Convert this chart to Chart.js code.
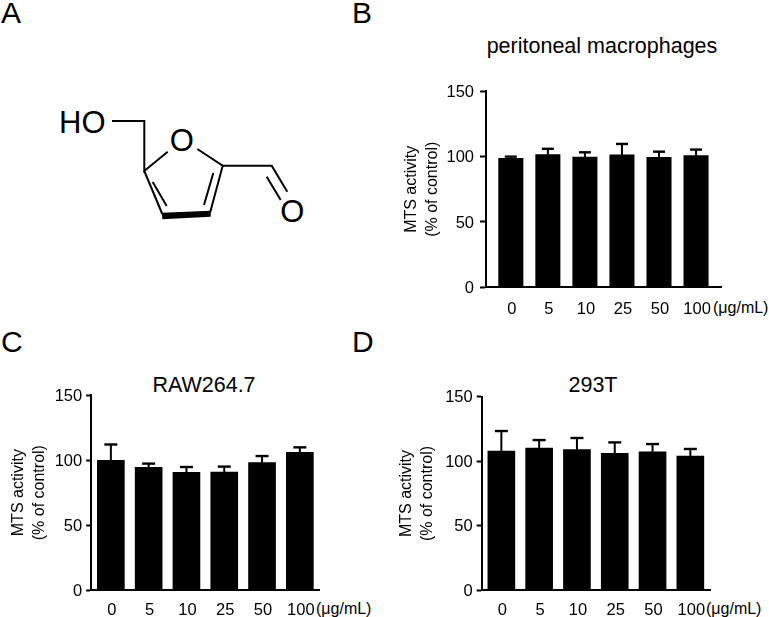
<!DOCTYPE html>
<html>
<head>
<meta charset="utf-8">
<title>MTS activity</title>
<script src="https://cdn.jsdelivr.net/npm/chart.js@4"></script>
<style>
    html, body { margin: 0; padding: 0; background: #fff; }
    body { position: relative; width: 769px; height: 617px; overflow: hidden; font-family: "Liberation Sans", Arial, sans-serif; color: #000; }
    canvas { position: absolute; display: block; }
    .label { position: absolute; white-space: nowrap; line-height: 1; }
    .letter { font-size: 30px; }
    .title { font-size: 21.5px; transform: translateX(-50%); }
    .unit { font-size: 16px; }
    svg { position: absolute; left: 0; top: 0; }
</style>
</head>
<body>

<svg width="340" height="250" viewBox="0 0 340 250">
    <g fill="none" stroke="#000" stroke-width="2">
        <polyline points="112,121 144.3,121 144.3,171 167.7,151.7"></polyline>
        <polyline points="197.3,149 222.7,165.7 210,213"></polyline>
        <line x1="144.3" y1="171" x2="162.3" y2="214"></line>
        <line x1="152.7" y1="182" x2="166.7" y2="206"></line>
        <line x1="213.3" y1="173" x2="204" y2="205"></line>
        <polyline points="222.7,165.7 271.7,165.7 287.3,191.7"></polyline>
        <line x1="266.7" y1="176.7" x2="280.7" y2="200"></line>
    </g>
    <polygon points="162,212.7 210.7,210.7 210.7,216.7 162.3,219.3" fill="#000"></polygon>
    <g font-family="Liberation Sans, Arial, sans-serif" font-size="31" fill="#000">
        <text x="59" y="133">HO</text>
        <text x="181.7" y="151" text-anchor="middle">O</text>
        <text x="292.3" y="222" text-anchor="middle">O</text>
    </g>
</svg>

<span class="label letter" style="left:1px;top:-2px">A</span>
<span class="label letter" style="left:352px;top:-2px">B</span>
<span class="label letter" style="left:1px;top:327px">C</span>
<span class="label letter" style="left:352px;top:327px">D</span>

<span class="label title" style="left:602px;top:36px">peritoneal macrophages</span>
<span class="label title" style="left:204px;top:375px">RAW264.7</span>
<span class="label title" style="left:593px;top:375px">293T</span>

<span class="label unit" style="left:713px;top:300px">(μg/mL)</span>
<span class="label unit" style="left:316px;top:601px">(μg/mL)</span>
<span class="label unit" style="left:706px;top:601px">(μg/mL)</span>

<canvas id="chartB"></canvas>
<canvas id="chartC"></canvas>
<canvas id="chartD"></canvas>

<script>
const doses = ['0', '5', '10', '25', '50', '100'];
const yTicks = [0, 50, 100, 150];

const peritonealMean = [98.7, 101.5, 99.7, 101.3, 99.5, 100.8];
const peritonealUpper = [100, 106, 103.3, 109.7, 103.8, 105.4];

const rawMean = [99.8, 94.4, 90.6, 90.8, 98, 106];
const rawUpper = [112, 97.3, 94.7, 95, 103.1, 109.8];

const t293Mean = [107.9, 110.2, 109, 106.1, 107.2, 104];
const t293Upper = [123.4, 116.4, 118, 114.6, 113.3, 109.5];

// upper whisker of each bar, taken from the dataset's own upper list
const errorBars = {
    id: 'errorBars',
    afterDatasetsDraw(chart, args, opts) {
        const { ctx, scales } = chart;
        ctx.save();
        ctx.strokeStyle = '#000';
        opts.upper.forEach((top, i) => {
            const x = scales.x.getPixelForValue(i);
            const yTop = scales.y.getPixelForValue(top);
            const yMean = scales.y.getPixelForValue(opts.mean[i]);
            ctx.lineWidth = 2;
            ctx.beginPath();
            ctx.moveTo(x, yMean);
            ctx.lineTo(x, yTop);
            ctx.stroke();
            ctx.lineWidth = 2.4;
            ctx.beginPath();
            ctx.moveTo(x - opts.cap / 2, yTop);
            ctx.lineTo(x + opts.cap / 2, yTop);
            ctx.stroke();
        });
        ctx.restore();
    },
};

function drawPanel(id, mean, upper, box) {
    const canvas = document.getElementById(id);
    canvas.style.left = box.left + 'px';
    canvas.style.top = box.top + 'px';
    canvas.width = box.width;
    canvas.height = box.height;

    return new Chart(canvas, {
        type: 'bar',
        data: {
            datasets: [
                {
                    data: mean.map((value, i) => ({ x: i, y: value })),
                    backgroundColor: '#000',
                    borderWidth: 0,
                    barThickness: box.barWidth,
                },
            ],
        },
        plugins: [errorBars],
        options: {
            responsive: false,
            animation: false,
            layout: { padding: { top: box.axisTop - box.top, right: box.left + box.width - box.axisRight, left: 0, bottom: 0 } },
            plugins: {
                legend: { display: false },
                tooltip: { enabled: false },
                errorBars: { mean, upper, cap: box.cap },
            },
            scales: {
                x: {
                    type: 'linear',
                    offset: false,
                    min: box.xMin,
                    max: box.xMax,
                    afterFit: (scale) => { scale.height = box.top + box.height - box.axisBottom; },
                    grid: { display: false },
                    border: { color: '#000', width: 2 },
                    ticks: {
                        stepSize: 1,
                        includeBounds: false,
                        autoSkip: false,
                        maxRotation: 0,
                        labelOffset: 1,
                        padding: box.xPad,
                        color: '#000',
                        font: { family: 'Liberation Sans', size: 16.5 },
                        callback: (value) => doses[value],
                    },
                },
                y: {
                    min: 0,
                    max: 150,
                    afterBuildTicks: (scale) => { scale.ticks = yTicks.map((value) => ({ value })); },
                    afterFit: (scale) => { scale.width = box.axisLeft - box.left; },
                    grid: { drawOnChartArea: false, tickColor: '#000', tickWidth: 2, tickLength: box.tickLen },
                    border: { color: '#000', width: 2 },
                    ticks: {
                        labelOffset: 1,
                        padding: box.yPad,
                        color: '#000',
                        font: { family: 'Liberation Sans', size: 16.5 },
                    },
                    title: {
                        display: true,
                        text: ['MTS activity', '(% of control)'],
                        color: '#000',
                        padding: { top: 0, bottom: 0 },
                        font: { family: 'Liberation Sans', size: 16, lineHeight: 1.3 },
                    },
                },
            },
        },
    });
}

drawPanel('chartB', peritonealMean, peritonealUpper, {
    left: 401, top: 70, width: 339, height: 255,
    axisLeft: 486, axisRight: 721.6, axisTop: 91.3, axisBottom: 287.3,
    xMin: -0.67, xMax: 5.69, barWidth: 24.4, cap: 12, tickLen: 6, yPad: 6, xPad: 4,
});

drawPanel('chartC', rawMean, rawUpper, {
    left: 7.5, top: 375, width: 329, height: 242,
    axisLeft: 90.7, axisRight: 319, axisTop: 395, axisBottom: 590.3,
    xMin: -0.52, xMax: 5.52, barWidth: 27, cap: 13, tickLen: 5, yPad: 4, xPad: 2,
});

drawPanel('chartD', t293Mean, t293Upper, {
    left: 396, top: 375, width: 330, height: 242,
    axisLeft: 481.7, axisRight: 710, axisTop: 396.7, axisBottom: 590.3,
    xMin: -0.52, xMax: 5.52, barWidth: 27, cap: 13, tickLen: 5, yPad: 4, xPad: 2,
});
</script>
</body>
</html>
